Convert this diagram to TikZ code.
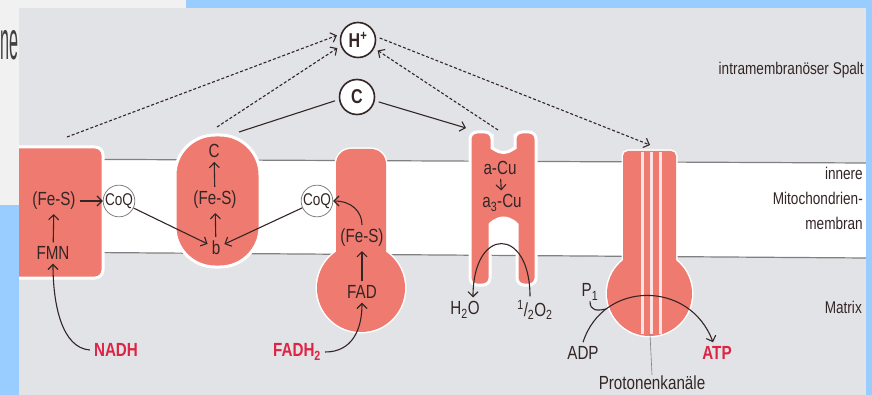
\documentclass[tikz,border=0pt]{standalone}
\usepackage{fontspec}
\setmainfont{Liberation Sans}[FakeStretch=0.8]
\newfontfamily\fragfont{Liberation Sans}[FakeStretch=0.3]
\usetikzlibrary{arrows, arrows.meta}
\usetikzlibrary{calc}

\definecolor{protein}{RGB}{238,122,112}
\definecolor{scan}{RGB}{226,227,230}
\definecolor{paper}{RGB}{241,241,242}
\definecolor{frame}{RGB}{153,204,255}
\definecolor{ink}{RGB}{52,38,38}
\definecolor{signal}{RGB}{222,36,68}
\definecolor{rim}{RGB}{128,128,130}

\tikzset{
  lbl/.style={text=ink, inner sep=4pt, font=\fontsize{19}{19}\selectfont},
  redlbl/.style={text=signal, inner sep=4pt, font=\fontsize{19}{19}\selectfont\bfseries},
  side/.style={text=ink, anchor=east, align=right, inner sep=0pt, font=\fontsize{17}{25}\selectfont},
  coq/.style={circle, draw=gray, fill=white, line width=0.8pt, inner sep=0pt, minimum size=30pt, text=ink, font=\fontsize{17}{17}\selectfont},
  ion/.style={circle, draw=ink, fill=white, line width=1.6pt, inner sep=0pt, minimum size=35pt, text=ink, font=\fontsize{20}{20}\selectfont\bfseries},
  body/.style={fill=protein},
  rimline/.style={draw=white, line width=3pt},
  wire/.style={draw=ink, line width=1.1pt},
  arr/.style={wire, -{Straight Barb[length=5pt,width=10pt]}},
  pump/.style={arr, dash pattern=on 3pt off 2pt},
}

\begin{document}
\begin{tikzpicture}[x=1pt, y=-1pt]
  \useasboundingbox (0,0) rectangle (872,395);

  % page and membrane band
  \fill[paper] (0,0) rectangle (872,395);
  \fill[scan] (19,8) rectangle (866,395);
  \fill[white] (19,159) -- (866,163) -- (866,258) -- (19,252) -- cycle;
  \draw[rim, line width=1.2pt] (19,159) -- (866,163);
  \draw[rim, line width=1.2pt] (19,252) -- (866,258);

  % complex I and III
  \draw[rimline, body, rounded corners=8pt] (8,147) rectangle (103,278);
  \draw[rimline, body, rounded corners=40pt] (175,135) rectangle (260,267);

  % complex II (stem with head)
  \draw[rimline, rounded corners=15pt] (336,290) rectangle (386,149);
  \draw[rimline] (361,288) circle[radius=44];
  \fill[body, rounded corners=15pt] (336,290) rectangle (386,149);
  \fill[body] (361,288) circle[radius=44];

  % complex IV
  \draw[rimline, body, rounded corners=7pt] (470,285) -- (470,132) -- (492,132)
    -- (492,141) arc[start angle=180, end angle=0, radius=11.5] -- (515,132)
    -- (536,132) -- (536,285) -- (517,285)
    -- (517,231.5) arc[start angle=0, end angle=-180, radius=13.5]
    -- (490,285) -- cycle;

  % ATP synthase
  \draw[rimline, rounded corners=5pt] (623,151) rectangle (676,300);
  \draw[rimline] (649.5,293.5) circle[radius=42.5];
  \fill[body, rounded corners=5pt] (623,151) rectangle (676,300);
  \fill[body] (649.5,293.5) circle[radius=42.5];
  \foreach \x in {642,651,660}
    \draw[white!80!protein, line width=3pt] (\x,152) -- (\x,334);

  % scan edges
  \fill[paper] (0,8) rectangle (19,205);
  \fill[frame] (0,205) rectangle (19,395);
  \fill[frame] (186,0) rectangle (872,8);
  \fill[frame] (866,0) rectangle (872,395);
  \node[anchor=base east, inner sep=0pt, text=black!75, font=\fragfont\fontsize{54}{54}\selectfont] (frag) at (19,60) {ne};

  % labels
  \node[lbl] (fes1) at (54,201) {(Fe-S)};
  \node[coq] (coq1) at (119,201) {CoQ};
  \node[lbl] (fmn) at (53,253) {FMN};
  \node[redlbl] (nadh) at (116,350) {NADH};

  \node[lbl] (c3) at (214,151) {C};
  \node[lbl] (fes3) at (215,200) {(Fe-S)};
  \node[lbl] (b3) at (216,248) {b};

  \node[coq] (coq2) at (317,201) {CoQ};
  \node[lbl] (fes2) at (362,238) {(Fe-S)};
  \node[lbl] (fad) at (362,292) {FAD};
  \node[redlbl] (fadh) at (297,352) {FADH\textsubscript{2}};

  \node[lbl] (acu) at (500,168) {a-Cu};
  \node[lbl] (a3cu) at (502,203) {a\textsubscript{3}-Cu};
  \node[lbl] (h2o) at (465,310) {H\textsubscript{2}O};
  \node[lbl] (o2) at (535,310) {\textsuperscript{1}/\textsubscript{2}O\textsubscript{2}};

  \node[lbl, inner sep=1pt] (p1) at (590,292) {P\textsubscript{1}};
  \node[lbl] (adp) at (583,353) {ADP};
  \node[redlbl] (atp) at (717,353) {ATP};
  \node[lbl, inner sep=1pt] (kanal) at (652,383) {Protonenkanäle};

  \node[ion] (hplus) at (358,40) {H\textsuperscript{+}};
  \node[ion] (cyt) at (357,97) {C};

  \node[side] (spalt) at (864,70) {intramembranöser Spalt};
  \node[side] (membran) at (863,198) {innere\\Mitochondrien-\\membran};
  \node[side] (matrix) at (862,307) {Matrix};

  % electron flow
  \draw[arr] (fes1) -- (coq1);
  \draw[arr] (fmn) -- (fes1);
  \draw[arr] (nadh.west) .. controls (62,348) and (53,305) .. (fmn.south);
  \draw[arr] (coq1) -- (b3);
  \draw[arr] (coq2) -- (b3);
  \draw[arr] (b3) -- (fes3);
  \draw[arr] (fes3) -- (c3);
  \draw[arr] (fes2.north) .. controls (362,212) and (352,201) .. (coq2.east);
  \draw[arr] (fad) -- (fes2);
  \draw[arr] (fadh.east) .. controls (352,352) and (362,330) .. (fad.south);
  \draw[arr] (acu) -- (a3cu);
  \draw[arr] ([xshift=-5pt]o2.north) .. controls (530,226) and (473,226) .. ([xshift=8pt]h2o.north);

  % cytochrome c shuttle
  \coordinate (c3out) at (239,132);
  \coordinate (c4in) at (466,128);
  \draw[wire, shorten >=4pt] (c3out) -- (cyt.188);
  \draw[arr, shorten <=4pt] (cyt.-12) -- (c4in);

  % proton pumping
  \coordinate (top1) at (67,137);
  \coordinate (top3) at (217,127);
  \coordinate (top4) at (498,130);
  \coordinate (top5) at (650,145);
  \draw[pump, shorten >=4pt] (top1) -- (hplus.161);
  \draw[pump, shorten >=4pt] (top3) -- (hplus.199);
  \draw[pump, shorten >=4pt] (top4) -- (hplus.-27);
  \draw[pump, shorten <=4pt] (hplus.11) -- (top5);

  % phosphorylation
  \coordinate (pjoin) at (606,309);
  \coordinate (kfoot) at (650,334);
  \draw[arr] (adp.north) .. controls (603,280) and (690,280) .. ([xshift=-4pt]atp.north);
  \draw[wire] (p1.south) .. controls (590,311) and (597,311) .. (pjoin);
  \draw[rim, line width=0.6pt] (kanal.north) -- (kfoot);
\end{tikzpicture}
\end{document}
